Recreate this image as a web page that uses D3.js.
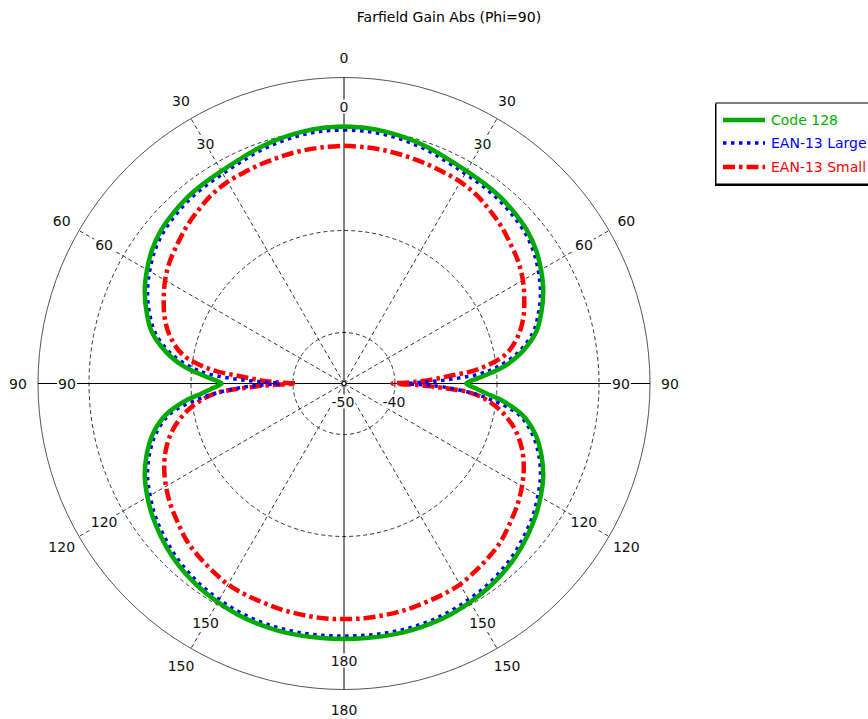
<!DOCTYPE html>
<html>
<head>
<meta charset="utf-8">
<script src="https://cdn.jsdelivr.net/npm/d3@7"></script>
<style>
  html, body { margin: 0; padding: 0; background: #fff; overflow: hidden; }
  svg { display: block; }
</style>
</head>
<body>
<svg id="chart" width="868" height="719"></svg>
<script>
// ---------------- data ----------------
const titleText = "Farfield Gain Abs (Phi=90)";
const thetaDeg = [0,5,10,15,20,25,30,35,40,45,50,55,60,65,70,75,80,84,86,88,89,90,91,92,94,96,100,105,110,115,120,125,130,135,140,145,150,155,160,165,170,175,180];
const code128 = [0.4,0.3,0.0,-0.4,-0.9,-1.5,-1.9,-2.1,-2.3,-2.7,-3.2,-4.1,-5.4,-6.9,-8.8,-11.0,-14.6,-18.5,-21.3,-24.0,-25.3,-26.0,-25.3,-24.3,-22.0,-19.0,-14.5,-11.1,-8.8,-6.9,-5.5,-4.25,-3.2,-2.25,-1.5,-0.93,-0.5,-0.15,0.05,0.15,0.15,0.1,0.1];
const ean13Large = [-0.3,-0.35,-0.6,-1.0,-1.5,-2.1,-2.5,-2.7,-2.9,-3.3,-3.8,-4.7,-6.0,-7.5,-9.4,-11.7,-15.4,-20.0,-23.5,-30.0,-34.5,-37.5,-34.0,-30.5,-25.5,-21.5,-15.3,-11.8,-9.4,-7.5,-6.1,-4.8,-3.8,-2.85,-2.1,-1.5,-1.1,-0.75,-0.5,-0.4,-0.4,-0.45,-0.5];
const ean13Small = [-3.4,-3.5,-3.6,-3.8,-4.0,-4.2,-4.35,-4.8,-5.6,-6.4,-7.4,-8.3,-9.5,-11.0,-12.6,-14.75,-18.0,-23.8,-29.5,-34.0,-37.0,-40.5,-36.5,-32.5,-25.5,-22.5,-18.7,-15.3,-12.9,-11.1,-9.7,-8.5,-7.5,-6.4,-5.7,-5.1,-4.5,-4.3,-4.2,-4.0,-3.9,-3.8,-3.8];
const seriesNames = ["Code 128", "EAN-13 Large", "EAN-13 Small"];
const seriesColors = ["#00aa00", "#0000ff", "#ff0000"];
const textColors = ["#00b000", "#0000ff", "#ff0000"];
const ringValues = [-40, -20, 0];
const ringLabels = ["-50", "-40"];
const ringLabelValues = [-50, -40];
const angleTicks = [0, 30, 60, 90, 120, 150, 180];
const dbDomain = [-50, 10];

// ---------------- layout ----------------
const svg = d3.select("#chart");
const cx = 344, cy = 383.5, R = 306;
const rScale = d3.scaleLinear().domain(dbDomain).range([0, R]);
const FONT = "'DejaVu Sans', Verdana, sans-serif";

svg.append("text")
  .attr("x", 449).attr("y", 22)
  .attr("text-anchor", "middle")
  .attr("font-family", FONT).attr("font-size", 14)
  .attr("fill", "#000")
  .text(titleText);

const g = svg.append("g").attr("transform", `translate(${cx},${cy})`);

// outer circle
g.append("circle").attr("r", R).attr("fill", "none").attr("stroke", "#555").attr("stroke-width", 1);

// dashed rings
g.selectAll("circle.ring").data(ringValues).join("circle")
  .attr("class", "ring")
  .attr("r", d => rScale(d))
  .attr("fill", "none").attr("stroke", "#333").attr("stroke-width", 1)
  .attr("stroke-dasharray", "4,3");

// radial spokes (both sides)
const spokeAngles = [];
angleTicks.forEach(a => { spokeAngles.push(a); if (a !== 0 && a !== 180) spokeAngles.push(360 - a); });
g.selectAll("line.spoke").data(spokeAngles).join("line")
  .attr("class", "spoke")
  .attr("x1", 0).attr("y1", 0)
  .attr("x2", d => R * Math.sin(d * Math.PI / 180))
  .attr("y2", d => -R * Math.cos(d * Math.PI / 180))
  .attr("stroke", d => (d % 90 === 0) ? "#000" : "#333")
  .attr("stroke-width", 1)
  .attr("stroke-dasharray", d => (d % 90 === 0) ? null : "4,3");

g.append("circle").attr("r", 2).attr("fill", "#fff").attr("stroke", "#000").attr("stroke-width", 1);

// curves
const radial = d3.lineRadial()
  .angle(d => d.a)
  .radius(d => rScale(d.v))
  .curve(d3.curveCatmullRom.alpha(0.5));

function loopData(vals) {
  const right = thetaDeg.map((t, i) => ({ a: t * Math.PI / 180, v: vals[i] }));
  const left = thetaDeg.slice().reverse().map((t, k) => ({ a: (360 - t) * Math.PI / 180, v: vals[vals.length - 1 - k] }));
  return right.concat(left.slice(1));
}

const styles = [
  { w: 4.5, dash: null, cap: "round" },
  { w: 3.5, dash: "3.5,4.5", cap: "butt" },
  { w: 4.5, dash: "12,4,3.5,4", cap: "butt" }
];
const allSeries = [code128, ean13Large, ean13Small];
[2, 1, 0].forEach(i => {
  g.append("path")
    .attr("d", radial(loopData(allSeries[i])))
    .attr("fill", "none")
    .attr("stroke", seriesColors[i])
    .attr("stroke-width", styles[i].w)
    .attr("stroke-dasharray", styles[i].dash)
    .attr("stroke-linecap", styles[i].cap)
    .attr("stroke-linejoin", "round");
});

// angle labels (inner and outer)
function addLabel(x, y, txt) {
  const t = g.append("text")
    .attr("x", x).attr("y", y)
    .attr("text-anchor", "middle").attr("dominant-baseline", "central")
    .attr("font-family", FONT).attr("font-size", 14)
    .attr("fill", "#111")
    .text(txt);
  const bb = t.node().getBBox();
  g.insert("rect", () => t.node())
    .attr("x", bb.x - 1).attr("y", bb.y + 1)
    .attr("width", bb.width + 2).attr("height", bb.height - 2)
    .attr("fill", "#fff");
}
const innerR = 277, outerR = 326;
spokeAngles.forEach(d => {
  const lbl = d > 180 ? 360 - d : d;
  const s = Math.sin(d * Math.PI / 180), c = Math.cos(d * Math.PI / 180);
  addLabel(innerR * s, -innerR * c, String(lbl));
  addLabel(outerR * s, -outerR * c, String(lbl));
});

// ring value labels
ringLabelValues.forEach((v, i) => {
  addLabel(rScale(v) - 1, 18, ringLabels[i]);
});

// legend
const lg = svg.append("g").attr("transform", "translate(716,103)");
lg.append("rect").attr("x", -1).attr("y", 1).attr("width", 170).attr("height", 82).attr("fill", "#000");
lg.append("rect").attr("x", 0).attr("y", 0).attr("width", 170).attr("height", 81)
  .attr("fill", "#fff").attr("stroke", "#000").attr("stroke-width", 1);
const rowY = [17, 40, 64];
seriesNames.forEach((name, i) => {
  lg.append("line")
    .attr("x1", 7).attr("x2", 49).attr("y1", rowY[i]).attr("y2", rowY[i])
    .attr("stroke", seriesColors[i]).attr("stroke-width", styles[i].w)
    .attr("stroke-dasharray", styles[i].dash);
  lg.append("text")
    .attr("x", 55).attr("y", rowY[i])
    .attr("dominant-baseline", "central")
    .attr("font-family", FONT).attr("font-size", 14)
    .attr("fill", textColors[i])
    .text(name);
});
</script>
</body>
</html>
